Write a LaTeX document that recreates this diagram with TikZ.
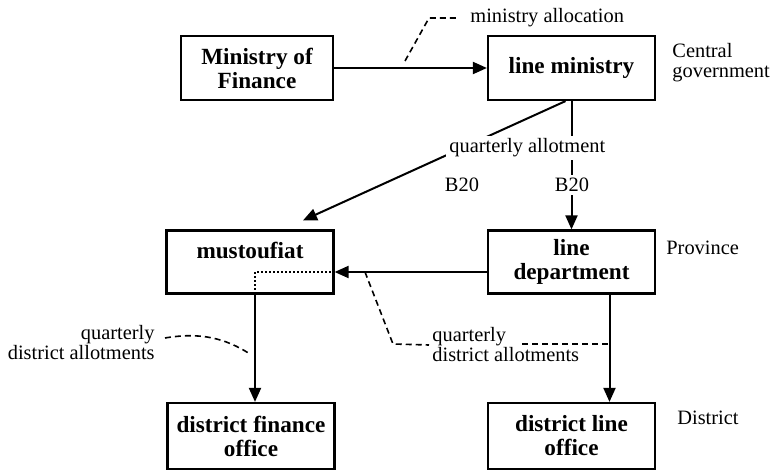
\documentclass[tikz,border=0pt]{standalone}
\usepackage{fontspec}
\setmainfont{Liberation Serif}
\usetikzlibrary{arrows.meta}
\usetikzlibrary{calc}

\begin{document}
\begin{tikzpicture}[x=0.5pt, y=-0.5pt,
            box/.style={draw, line width=1.1pt, align=center, inner sep=2pt,
               font=\fontsize{11.6}{12}\selectfont\bfseries,
               minimum width=83.5pt, minimum height=32pt},
            lbl/.style={font=\fontsize{10.2}{10}\selectfont, inner sep=1.5pt},
            flow/.style={line width=1pt, -{Triangle[length=7pt, width=6pt]}},
            link/.style={line width=0.8pt, dash pattern=on 3pt off 2pt}]
            \useasboundingbox (0,0) rectangle (773,471);

            \node[box, minimum width=76pt] (mof) at (257,68) {Ministry of\\Finance};
            \node[box] (lmin) at (571.5,68) {line ministry};
            \node[box, minimum height=31.5pt] (must) at (250,262) {mustoufiat\\\mbox{}};
            \node[box, minimum height=31.5pt] (ldep) at (571.5,262) {line\\department};
            \node[box, minimum height=33pt] (dfo) at (251,436) {district finance\\office};
            \node[box, minimum height=33pt] (dlo) at (571.5,436) {district line\\office};

            \node[lbl, anchor=west, align=left] (central) at (669,63) {Central\\government};
            \node[lbl, anchor=west] (province) at (663,248) {Province};
            \node[lbl, anchor=west] (district) at (674,418) {District};

            \coordinate (allocfoot) at (405,61);
            \coordinate (qdrfoot) at (365,272);
            \coordinate (qdrfrom) at (522,344);
            \coordinate (qdrto) at (609.5,344);
            \coordinate (qdlfrom) at (165,338);
            \coordinate (qdlto) at (250,354);

            \draw[flow] (mof) -- (lmin);
            \draw[flow] (lmin) -- (ldep);
            \draw[flow] ($(lmin.south)+(-6,0)$) -- ($(must.north)+(53,-9)$);
            \draw[flow] ($(ldep.west)+(0,10)$) -- ($(must.east)+(0,10)$);
            \draw[line width=0.9pt, dash pattern=on 0.9pt off 1.1pt]
               ($(must.east)+(0,10)$) -| ($(must.south)+(5,0)$);
            \draw[flow] ($(must.south)+(5,0)$) -- ($(dfo.north)+(4,0)$);
            \draw[flow] ($(ldep.south)+(38,0)$) -- ($(dlo.north)+(38,0)$);

            \node[lbl, anchor=west, fill=white] (qallot) at (446,148) {quarterly allotment};
            \node[lbl, fill=white] (b20r) at (572,185) {B20};
            \node[lbl] (b20l) at (462,185) {B20};

            \node[lbl, anchor=west] (alloc) at (467,18) {ministry allocation};
            \draw[link, shorten >=4pt] (allocfoot) -- (429,18) -- (alloc.west);

            \node[lbl, anchor=west, align=left] (qdr) at (429,345) {quarterly\\district allotments};
            \draw[link] (qdrfoot) -- (393,344) -- (qdr.west);
            \draw[link] (qdrfrom) -- (qdrto);

            \node[lbl, anchor=east, align=right] (qdl) at (158,343) {quarterly\\district allotments};
            \draw[link] (qdlfrom) .. controls (200,332) and (225,338) .. (qdlto);
        \end{tikzpicture}
\end{document}
